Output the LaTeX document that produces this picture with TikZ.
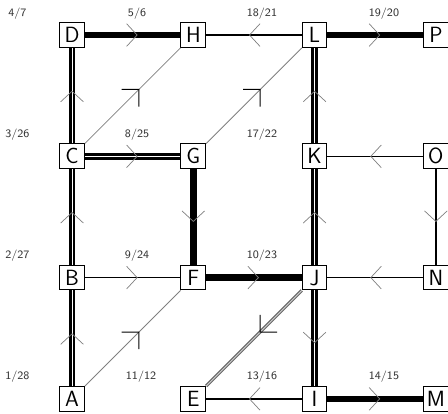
\documentclass[tikz,border=0pt]{standalone}
\usetikzlibrary{decorations.markings}

\begin{document}
\begin{tikzpicture}[x=3cm, y=3cm,
  vtx/.style={draw, line width=0.7pt, fill=white, inner sep=0pt, minimum size=0.61cm,
    font=\fontsize{15.5}{15.5}\selectfont\sffamily},
  face/.style={font=\fontsize{8}{9}\selectfont\sffamily, text=black!80},
  heavy/.style={preaction={draw, line width=4.5pt}},
  dbl/.style={preaction={draw, double, line width=2pt, double distance=0.7pt}},
  plain/.style={preaction={draw, line width=1pt}},
  diag/.style={preaction={draw, gray, line width=0.6pt}},
  ddiag/.style={preaction={draw, black!60, double=gray!35, line width=0.8pt, double distance=0.6pt}},
  fwd/.style={postaction={decorate}, decoration={markings,
    mark=at position 0.5 with {\draw[gray, line width=0.5pt] (-0.15cm,0.28cm) -- (0.11cm,0cm) -- (-0.15cm,-0.28cm);}}},
  dfwd/.style={postaction={decorate}, decoration={markings,
    mark=at position 0.5 with {\draw[black, line width=0.7pt, xshift=#1] (-0.3cm,0.3cm) -- (0cm,0cm) -- (-0.3cm,-0.3cm);}}},
  dfwd/.default=0.22cm]
\useasboundingbox (-0.594,-0.124) rectangle (3.100,3.289);

\node[vtx] (A) at (0,0) {A};
\node[vtx] (B) at (0,1) {B};
\node[vtx] (C) at (0,2) {C};
\node[vtx] (D) at (0,3) {D};
\node[vtx] (E) at (1,0) {E};
\node[vtx] (F) at (1,1) {F};
\node[vtx] (G) at (1,2) {G};
\node[vtx] (H) at (1,3) {H};
\node[vtx] (I) at (2,0) {I};
\node[vtx] (J) at (2,1) {J};
\node[vtx] (K) at (2,2) {K};
\node[vtx] (L) at (2,3) {L};
\node[vtx] (M) at (3,0) {M};
\node[vtx] (N) at (3,1) {N};
\node[vtx] (O) at (3,2) {O};
\node[vtx] (P) at (3,3) {P};

\node[face] (q1) at (-0.45,3.18) {4/7};
\node[face] (q2) at (0.536,3.18) {5/6};
\node[face] (q3) at (1.566,3.18) {18/21};
\node[face] (q4) at (2.572,3.18) {19/20};
\node[face] (q5) at (-0.45,2.18) {3/26};
\node[face] (q6) at (0.536,2.18) {8/25};
\node[face] (q7) at (1.566,2.18) {17/22};
\node[face] (q8) at (-0.45,1.18) {2/27};
\node[face] (q9) at (0.536,1.18) {9/24};
\node[face] (q10) at (1.566,1.18) {10/23};
\node[face] (q11) at (-0.45,0.18) {1/28};
\node[face] (q12) at (0.569,0.18) {11/12};
\node[face] (q13) at (1.566,0.18) {13/16};
\node[face] (q14) at (2.572,0.18) {14/15};

% top row
\path[heavy, fwd] (D) -- (H);
\path[plain, fwd] (L) -- (H);
\path[heavy, fwd] (L) -- (P);
% left column
\path[dbl, fwd] (C) -- (D);
\path[dbl, fwd] (B) -- (C);
\path[dbl, fwd] (A) -- (B);
% middle
\path[dbl, fwd] (C) -- (G);
\path[heavy, fwd] (G) -- (F);
\path[plain, fwd] (B) -- (F);
\path[heavy, fwd] (F) -- (J);
\path[plain, fwd] (I) -- (E);
\path[heavy, fwd] (I) -- (M);
% diagonals
\path[diag, dfwd] (C) -- (H);
\path[diag, dfwd] (G) -- (L);
\path[diag, dfwd] (A) -- (F);
\path[ddiag, dfwd=-0.21cm] (J) -- (E);
% right side
\path[dbl, fwd] (K) -- (L);
\path[dbl, fwd] (J) -- (K);
\path[dbl, fwd] (J) -- (I);
\path[plain, fwd] (O) -- (K);
\path[plain, fwd] (O) -- (N);
\path[plain, fwd] (N) -- (J);
\end{tikzpicture}
\end{document}
